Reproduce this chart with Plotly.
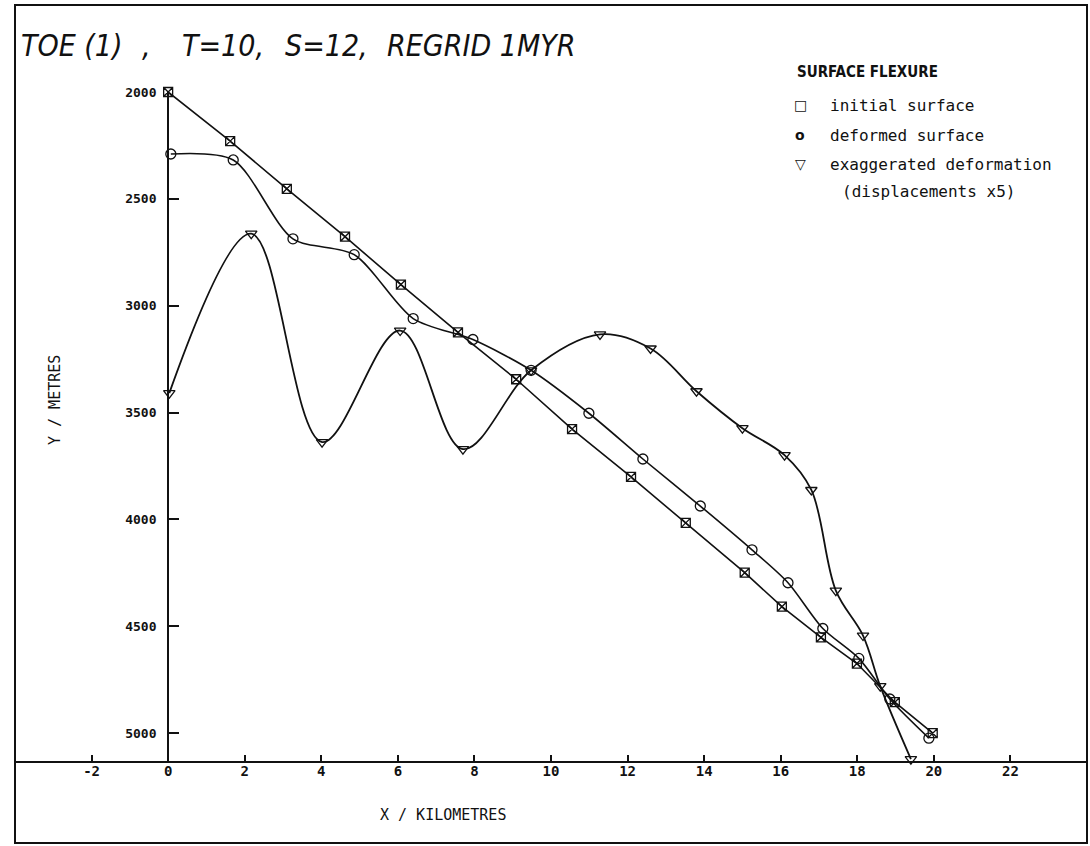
import plotly.graph_objects as go

# ---- data ----
initial_x = [0.0, 1.62, 3.10, 4.62, 6.08, 7.57, 9.09, 10.55, 12.09, 13.52, 15.06, 16.03, 17.05, 17.99, 18.98, 19.97]
initial_y = [2000, 2230, 2453, 2677, 2901, 3125, 3344, 3577, 3801, 4016, 4249, 4408, 4552, 4674, 4855, 5000]

deformed_x = [0.07, 1.70, 3.26, 4.86, 6.40, 7.96, 9.48, 10.99, 12.40, 13.90, 15.25, 16.19, 17.10, 18.04, 18.85, 19.87]
deformed_y = [2290, 2318, 2687, 2761, 3060, 3158, 3302, 3503, 3717, 3937, 4142, 4296, 4510, 4650, 4840, 5023]

exag_x = [0.03, 2.17, 4.02, 6.06, 7.70, 9.48, 11.28, 12.60, 13.80, 15.00, 16.10, 16.80, 17.44, 18.15, 18.60, 19.40]
exag_y = [3409, 2663, 3638, 3116, 3671, 3302, 3134, 3200, 3400, 3573, 3699, 3862, 4333, 4543, 4780, 5121]

x_ticks = [-2, 0, 2, 4, 6, 8, 10, 12, 14, 16, 18, 20, 22]
y_ticks = [2000, 2500, 3000, 3500, 4000, 4500, 5000]

title_parts = ["TOE (1)", ",", "T=10,", "S=12,", "REGRID 1MYR"]
legend_title = "SURFACE FLEXURE"
legend_names = ["initial surface", "deformed surface", "exaggerated deformation"]
legend_note = "(displacements x5)"

X_RANGE = [-4, 24]
Y_RANGE = [5130, 2000]

INK = "#111111"
MONO = "DejaVu Sans Mono, Liberation Mono, monospace"
COND = "Liberation Sans Narrow, DejaVu Sans Condensed, DejaVu Sans, sans-serif"

# page pixel geometry of the plot area
PL, PR, PT, PB = 15, 1087, 92, 761
PW, PH = PR - PL, PB - PT


def px(xp):
    return (xp - PL) / PW


def py(yp):
    return (PB - yp) / PH


fig = go.Figure()

fig.add_trace(go.Scatter(
    x=initial_x, y=initial_y, mode="lines+markers", name=legend_names[0],
    line=dict(color=INK, width=1.6), cliponaxis=False,
    marker=dict(symbol="square-x-open", size=9, color=INK, line=dict(width=1.3)),
))
fig.add_trace(go.Scatter(
    x=deformed_x, y=deformed_y, mode="lines+markers", name=legend_names[1],
    line=dict(color=INK, width=1.6, shape="spline", smoothing=0.8), cliponaxis=False,
    marker=dict(symbol="circle-open", size=10, color=INK, line=dict(width=1.3)),
))
fig.add_trace(go.Scatter(
    x=exag_x, y=exag_y, mode="lines+markers", name=legend_names[2],
    line=dict(color=INK, width=1.8, shape="spline", smoothing=1.0), cliponaxis=False,
    marker=dict(symbol="triangle-down-open", size=10, color=INK, line=dict(width=1.3)),
))

fig.update_xaxes(
    range=X_RANGE, showline=True, linecolor=INK, linewidth=2,
    ticks="inside", ticklen=6, tickwidth=2, tickcolor=INK,
    tickvals=x_ticks, ticktext=[str(v) for v in x_ticks],
    ticklabelstandoff=-4,
    showgrid=False, zeroline=False,
    tickfont=dict(family=MONO, size=14, color=INK, weight="bold"),
)
fig.update_yaxes(
    range=Y_RANGE, anchor="free", position=4 / 28,
    showline=True, linecolor=INK, linewidth=2,
    ticks="inside", ticklen=10, tickwidth=2, tickcolor=INK,
    tickvals=y_ticks, ticktext=[str(v) for v in y_ticks],
    ticklabelstandoff=8,
    showgrid=False, zeroline=False,
    tickfont=dict(family=MONO, size=13, color=INK, weight="bold"),
)

annotations = []
# title pieces
title_x_px = [19, 140, 180, 283, 385]
for txt, xp in zip(title_parts, title_x_px):
    annotations.append(dict(
        text=txt, xref="paper", yref="paper",
        x=px(xp), y=py(46),
        xanchor="left", yanchor="middle", showarrow=False,
        font=dict(family=COND, size=30, color=INK, style="italic"),
    ))
# legend block
annotations.append(dict(
    text=legend_title, xref="paper", yref="paper",
    x=px(795), y=py(72), xanchor="left", yanchor="middle",
    showarrow=False, font=dict(family=COND, size=15, color=INK, weight="bold"),
))
sym = ["\u25A1", "o", "\u25BD"]
rows_y = [105, 135, 164]
for s, name, yp in zip(sym, legend_names, rows_y):
    annotations.append(dict(
        text=s, xref="paper", yref="paper",
        x=px(800), y=py(yp), xanchor="center", yanchor="middle",
        showarrow=False, font=dict(family="DejaVu Sans", size=14, color=INK, weight="bold"),
    ))
    annotations.append(dict(
        text=name, xref="paper", yref="paper",
        x=px(828), y=py(yp), xanchor="left", yanchor="middle",
        showarrow=False, font=dict(family=MONO, size=16, color=INK),
    ))
annotations.append(dict(
    text=legend_note, xref="paper", yref="paper",
    x=px(840), y=py(192), xanchor="left", yanchor="middle",
    showarrow=False, font=dict(family=MONO, size=16, color=INK),
))
# axis titles
annotations.append(dict(
    text="X / KILOMETRES", xref="paper", yref="paper",
    x=px(443), y=py(815), xanchor="center", yanchor="middle",
    showarrow=False, font=dict(family=MONO, size=15, color=INK),
))
annotations.append(dict(
    text="Y / METRES", xref="paper", yref="paper", textangle=-90,
    x=px(55), y=py(400), xanchor="center", yanchor="middle",
    showarrow=False, font=dict(family=MONO, size=15, color=INK),
))

fig.update_layout(
    width=1090, height=846,
    margin=dict(l=PL, r=1090 - PR, t=PT, b=846 - PB),
    paper_bgcolor="white", plot_bgcolor="white",
    showlegend=False,
    annotations=annotations,
    shapes=[dict(
        type="rect", xref="paper", yref="paper",
        x0=0, x1=1, y0=py(843), y1=py(5),
        line=dict(color=INK, width=2), fillcolor="rgba(0,0,0,0)", layer="below",
    )],
)

fig.write_html(
    "out.html",
    config={"displayModeBar": False},
    post_script="document.body.style.margin='0';document.body.style.overflow='hidden';",
)
